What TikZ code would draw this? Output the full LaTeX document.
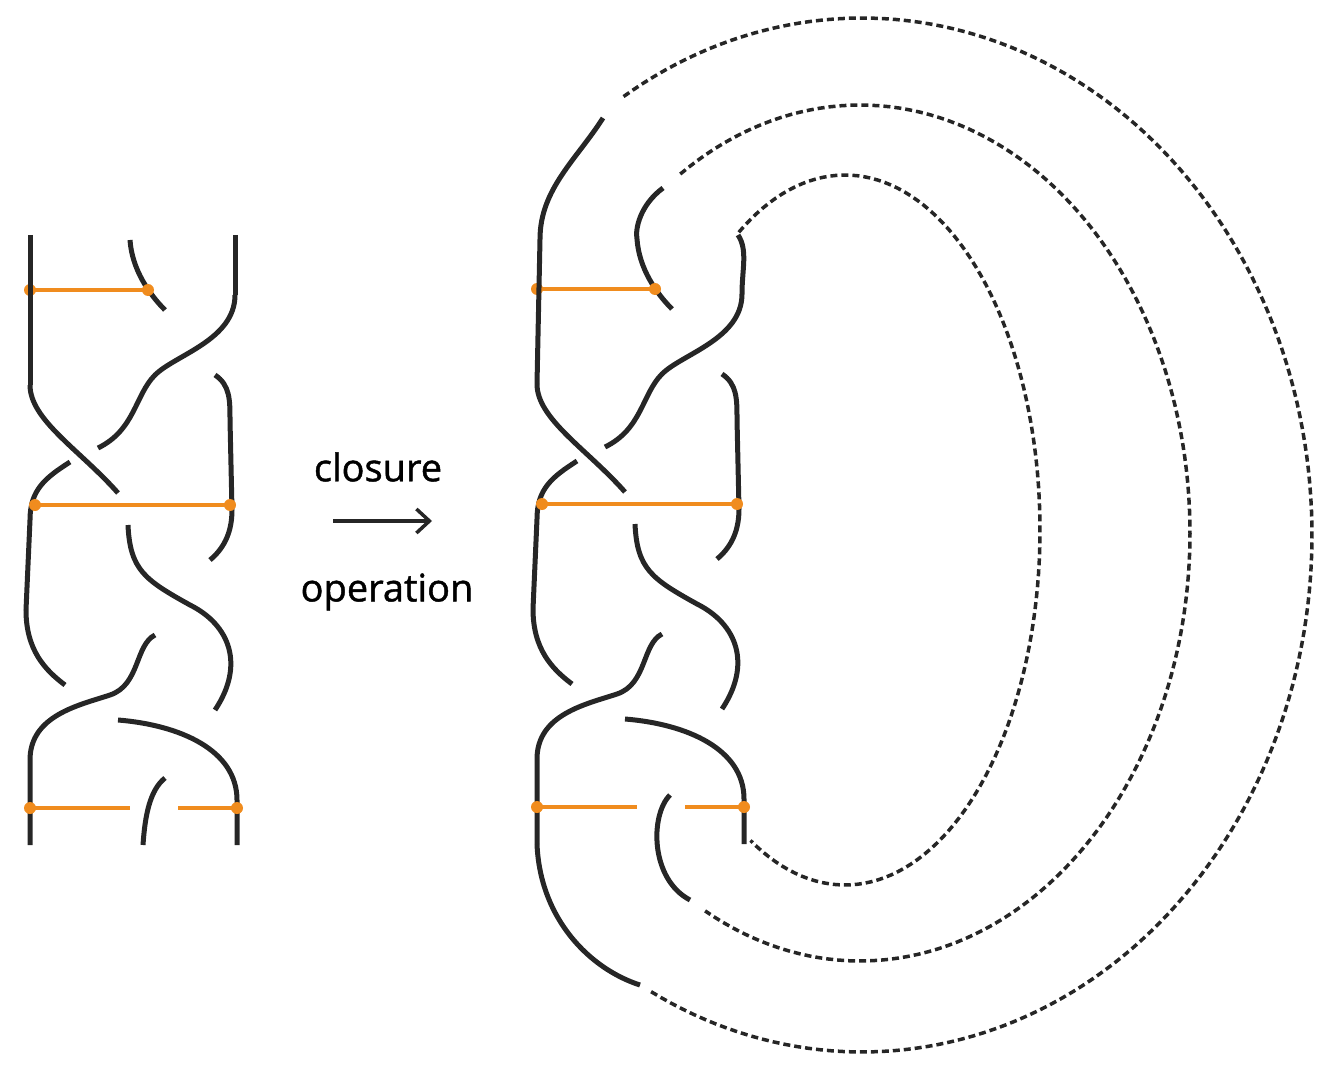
\documentclass[tikz,border=0pt]{standalone}
\usetikzlibrary{arrows.meta}
\usepackage{fontspec}
\setmainfont{Open Sans}[FakeBold=1.2]
\begin{document}
\begin{tikzpicture}[x=1pt,y=-1pt,
  str/.style={line width=5pt,black!85},
  org/.style={line width=4.5pt,color={rgb,255:red,240;green,140;blue,30}},
  dot/.style={circle,fill={rgb,255:red,240;green,140;blue,30},inner sep=0pt,minimum size=12pt},
  dsh/.style={line width=3.5pt,black!85,dash pattern=on 7pt off 4pt}]
\useasboundingbox (0,0) rectangle (1341,1075);
\newcommand\mybraid{%
 \draw[str] (30,385) .. controls (30,420) and (80,450) .. (118,493);
 \draw[str] (128,525) .. controls (130,570) and (145,580) .. (190,605) .. controls (230,625) and (245,665) .. (215,710);
 \draw[str] (130,240) .. controls (132,270) and (150,295) .. (165,310);
 \draw[str] (235,295) .. controls (235,340) and (175,355) .. (155,375) .. controls (135,395) and (135,430) .. (98,448);
 \draw[str] (70,462) .. controls (45,478) and (30,490) .. (30,520) -- (26,610) .. controls (26,650) and (45,670) .. (65,685);
 \draw[str] (215,375) .. controls (230,385) and (230,400) .. (230,420) -- (232,510) .. controls (232,535) and (222,550) .. (210,560);
 \draw[str] (155,635) .. controls (135,645) and (140,685) .. (110,695) .. controls (80,705) and (30,715) .. (30,760) -- (30,845);
 \draw[str] (118,720) .. controls (180,725) and (237,750) .. (237,800) -- (237,845);
 \draw[org] (30,290) -- (148,290);
 \draw[org] (35,505) -- (230,505);
 \draw[org] (30,808) -- (130,808);
 \draw[org] (178,808) -- (237,808);
 \node[dot] (p1) at (30,290) {}; \node[dot] (p2) at (148,290) {};
 \node[dot] (p3) at (35,505) {}; \node[dot] (p4) at (230,505) {};
 \node[dot] (p5) at (30,808) {}; \node[dot] (p6) at (237,808) {};
}
% left braid
\mybraid
\draw[str] (30,235) -- (30,385);
\draw[str] (235,235) -- (235,295);
\draw[str] (165,778) .. controls (150,790) and (145,815) .. (143,845);
% text
\node (t1) at (378,467) {\fontsize{38}{42}\selectfont closure};
\node (t2) at (387,592) {\fontsize{38}{42}\selectfont operation};
\coordinate (a1) at (333,521); \coordinate (a2) at (432,521);
\draw[line width=3.5pt,black!85,-{Straight Barb[length=13pt,width=24pt,line width=3.5pt]}] (a1) -- (a2);
% right braid
\begin{scope}[shift={(507,-1)}]
\mybraid
\draw[str] (96,119) .. controls (70,160) and (33,190) .. (33,240) -- (30,385);
\draw[str] (156,189) .. controls (133,206) and (128,230) .. (130,240);
\draw[str] (231,236) .. controls (241,251) and (235,270) .. (235,295);
\draw[str] (163,796) .. controls (143,816) and (143,880) .. (183,901);
\draw[str] (30,845) .. controls (33,920) and (83,970) .. (133,986);
\end{scope}
% closures
\draw[dsh] plot[domain=123:-119,samples=120] ({845+195*cos(\x)},{530-355*sin(\x)});
\draw[dsh] plot[domain=123:-118,samples=140] ({860+330*cos(\x)},{533-428*sin(\x)});
\draw[dsh] plot[domain=122:-118,samples=160] ({862+450*cos(\x)},{535-517*sin(\x)});
\end{tikzpicture}
\end{document}
